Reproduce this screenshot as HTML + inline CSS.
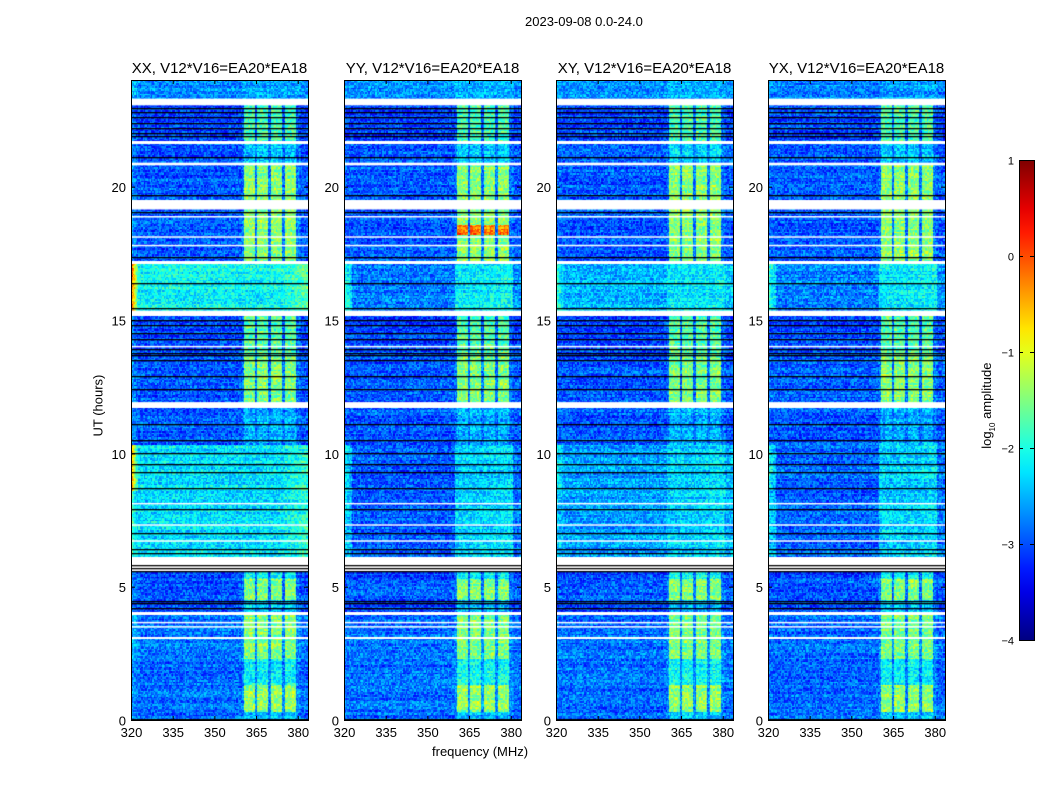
<!DOCTYPE html>
<html><head><meta charset="utf-8">
<style>
body{margin:0;background:#fff;font-family:"Liberation Sans",sans-serif;}
#wrap{position:relative;width:1050px;height:800px;overflow:hidden;}
.t{position:absolute;font-size:13px;color:#000;white-space:nowrap;}
canvas{position:absolute;}
</style></head>
<body>
<div id="wrap">
<div class="t" style="left:525px;top:14px">2023-09-08 0.0-24.0</div>
<div class="t" style="left:432px;top:744px">frequency (MHz)</div>
<div class="t" style="left:60px;top:391px;transform:rotate(-90deg);transform-origin:center;width:76px">UT (hours)</div>
<div class="t" style="left:940px;top:392px;transform:rotate(-90deg);width:96px">log<sub style="font-size:8px">10</sub> amplitude</div>
<svg id="ax" width="1050" height="800" style="position:absolute;left:0;top:0"></svg>
</div>
<script>
// ---- data ----
const panelTitles = ["XX, V12*V16=EA20*EA18","YY, V12*V16=EA20*EA18","XY, V12*V16=EA20*EA18","YX, V12*V16=EA20*EA18"];
const panelBroadOffset = [0.25, -0.45, -0.1, -0.4];
const panelEdgeOn = [1, 0.15, 0.2, 0.2];
const xTicks = [320,335,350,365,380];
const yTicks = [0,5,10,15,20];
const cbTicks = [1,0,-1,-2,-3,-4];
// time segments (hours): start, end, background level, band level, broadband flag, edge RFI level
const segLo  = [0,   0.3, 1.3, 2.3, 3.1, 4.05,4.5, 5.3, 6.1, 8.6, 10.3,11.9,13.6,15.35,17.2,19.5,20.9,21.7,23.3];
const segHi  = [0.3, 1.3, 2.3, 3.05,3.95,4.5, 5.3, 5.6, 8.6, 10.3,11.7,13.6,15.15,17.1,19.15,20.8,21.6,23.05,24];
const segBg  = [-2.85,-2.85,-2.85,-2.8,-2.85,-3.05,-2.95,-3.05,-2.5,-2.5,-2.95,-2.95,-3.05,-2.35,-2.95,-2.95,-2.95,-3.05,-2.7];
const segBand= [-2.4,-1.4,-2.1,-1.5,-1.5,-2.4,-1.5,-2.1,-2.5,-2.4,-2.5,-1.5,-1.7,-2.2,-1.45,-1.45,-2.35,-1.75,-2.6];
const segBroad=[0,0,0,0,0,0,0,0,1,1,0,0,0,1,0,0,0,0,0];
const segEdge= [-2.6,-2.6,-2.6,-2.4,-2.4,-2.8,-2.7,-2.8,-1.7,-0.2,-2.6,-2.6,-2.7,0.2,-2.6,-2.6,-2.6,-2.7,-2.3];
const bandLo = [360.5,365.3,370.4,375.4];
const bandHi = [364.6,369.3,374.3,379.4];
const whiteLo = [3.05,3.48,3.63,3.95,5.92,6.7,7.3,8.1,11.72,11.88,13.98,15.15,17.1,17.78,18.1,18.85,19.15,19.4,20.8,21.6,23.05];
const whiteHi = [3.1,3.52,3.68,4.05,6.1,6.74,7.34,8.14,11.78,11.92,14.03,15.35,17.2,17.82,18.14,18.9,19.2,19.5,20.9,21.7,23.3];
const blackRows = [0.05,4.2,4.4,4.45,5.6,5.7,5.8,6.25,6.4,7.0,7.9,8.7,9.3,9.6,10.0,10.5,11.1,12.4,12.9,13.5,13.7,13.75,13.9,14.3,14.5,14.8,15.0,15.45,16.4,17.35,19.05,19.7,21.1,21.9,22.0,22.2,22.4,22.6,22.8,22.95];
// YY hotspot in band (hours lo/hi, level)
const hotLo = [18.2], hotHi = [18.55], hotLevel = [-0.2];

// ---- geometry ----
const panelX = [131,344,556,768], PW = 177, PT = 80, PH = 640;
const fMin = 320, fMax = 383.7, hMax = 24;
const fx = f => (f - fMin) / (fMax - fMin) * PW;
const hy = h => PH - h / hMax * PH;

function jet(v){ // v in 0..1
  const c = x => Math.max(0, Math.min(1, x));
  return [c(1.5 - Math.abs(4*v-3)), c(1.5 - Math.abs(4*v-2)), c(1.5 - Math.abs(4*v-1))].map(x=>Math.round(x*255));
}
const norm = l => (l + 4) / 5;
function hash(a,b,p){ let h = (a*374761393 + b*668265263 + p*2147483647)|0; h = (h^(h>>>13))*1274126177|0; return ((h^(h>>>16))>>>0)/4294967296; }

const wrap = document.getElementById('wrap');
const svg = document.getElementById('ax');
const NS = 'http://www.w3.org/2000/svg';
function sv(tag, attrs){ const e=document.createElementNS(NS,tag); for(const k in attrs) e.setAttribute(k, attrs[k]); svg.appendChild(e); return e; }

panelX.forEach((px, p) => {
  const cv = document.createElement('canvas');
  cv.width = PW; cv.height = PH;
  cv.style.left = px + 'px'; cv.style.top = PT + 'px';
  
  
  wrap.insertBefore(cv, svg);
  const ctx = cv.getContext('2d');
  const img = ctx.createImageData(PW, PH);
  for (let y = 0; y < PH; y++) {
    const h = (PH - y - 0.5) / PH * hMax;
    let s = -1;
    for (let i = 0; i < segLo.length; i++) if (h >= segLo[i] && h < segHi[i]) { s = i; break; }
    const row = Math.floor(y / 1.5);
    const rowJit = (hash(row, 7, p) - 0.5) * 0.3;
    for (let x = 0; x < PW; x++) {
      const k = (y*PW + x) * 4;
      if (s < 0) { img.data[k]=255; img.data[k+1]=255; img.data[k+2]=255; img.data[k+3]=255; continue; }
      const f = fMin + (x + 0.5) / PW * (fMax - fMin);
      const col = Math.floor(x / 1.4);
      let lv = segBg[s] + (segBroad[s] ? panelBroadOffset[p] : 0);
      if (f > 360 && f < 381) lv = Math.max(lv, segBg[s] + 0.15);
      for (let b = 0; b < bandLo.length; b++) if (f >= bandLo[b] && f <= bandHi[b]) {
        let bl = segBand[s];
        if (p === 1) for (let q = 0; q < hotLo.length; q++) if (h >= hotLo[q] && h < hotHi[q]) bl = hotLevel[q];
        lv = Math.max(lv, bl);
      }
      if (segBroad[s] && f > 372) lv += 0.25 * (f - 372) / 12 * (p === 0 ? 1.6 : 0.6);
      if (f < 323) lv = Math.max(lv, segBg[s] + (segEdge[s] - segBg[s]) * panelEdgeOn[p] * (1 - (f - 320) / 3));
      lv += rowJit + (hash(col, row, p + 11) - 0.5) * 0.85;
      const c = jet(Math.max(0, Math.min(1, norm(lv))));
      img.data[k]=c[0]; img.data[k+1]=c[1]; img.data[k+2]=c[2]; img.data[k+3]=255;
    }
  }
  ctx.putImageData(img, 0, 0);
  ctx.fillStyle = '#fff';
  for (let i = 0; i < whiteLo.length; i++) ctx.fillRect(0, hy(whiteHi[i]), PW, Math.max(1.5, hy(whiteLo[i]) - hy(whiteHi[i])));
  ctx.fillStyle = '#000';
  for (let i = 0; i < blackRows.length; i++) ctx.fillRect(0, Math.round(hy(blackRows[i])), PW, 1.3);

  const fr = sv('rect', {x:px+0.5, y:PT+0.5, width:PW, height:PH, fill:'none', stroke:'#000', 'stroke-width':1});
  
  
  const tt = sv('text', {x:px+PW/2, y:PT-7, 'text-anchor':'middle', 'font-size':15, 'font-family':'Liberation Sans, sans-serif'});
  tt.textContent = panelTitles[p];
  
  
  xTicks.forEach(v => {
    const x = px + fx(v) + 0.5;
    sv('line', {x1:x, x2:x, y1:PT+PH, y2:PT+PH-4, stroke:'#000'});
    sv('line', {x1:x, x2:x, y1:PT, y2:PT+4, stroke:'#000'});
    const t = sv('text', {x:x, y:PT+PH+17, 'text-anchor':'middle', 'font-size':13, 'font-family':'Liberation Sans, sans-serif'});
    t.textContent = v;
    
    
  });
  yTicks.forEach(v => {
    const y = PT + hy(v) + 0.5;
    sv('line', {x1:px, x2:px+4, y1:y, y2:y, stroke:'#000'});
    sv('line', {x1:px+PW, x2:px+PW-4, y1:y, y2:y, stroke:'#000'});
    const t = sv('text', {x:px-5, y:y+5, 'text-anchor':'end', 'font-size':13, 'font-family':'Liberation Sans, sans-serif'});
    t.textContent = v;
    
    
  });
});

// colorbar
const cbX = 1019, cbY = 160, cbW = 15, cbH = 480;
const grad = sv('defs', {});
grad.innerHTML = '<linearGradient id="jg" x1="0" y1="1" x2="0" y2="0">' +
  Array.from({length:21}, (_, i) => { const c = jet(i/20); return `<stop offset="${i/20}" stop-color="rgb(${c})"/>`; }).join('') + '</linearGradient>';
const cb = sv('rect', {x:cbX+0.5, y:cbY+0.5, width:cbW, height:cbH, fill:'url(#jg)', stroke:'#000'});


cbTicks.forEach(v => {
  const y = cbY + (1 - v) / 5 * cbH + 0.5;
  sv('line', {x1:cbX, x2:cbX+4, y1:y, y2:y, stroke:'#000'});
  sv('line', {x1:cbX+cbW, x2:cbX+cbW-4, y1:y, y2:y, stroke:'#000'});
  const t = sv('text', {x:cbX-5, y:y+4, 'text-anchor':'end', 'font-size':11, 'font-family':'Liberation Sans, sans-serif'});
  t.textContent = v < 0 ? '\u2212' + (-v) : v;
  
  
});
</script>
</body></html>
